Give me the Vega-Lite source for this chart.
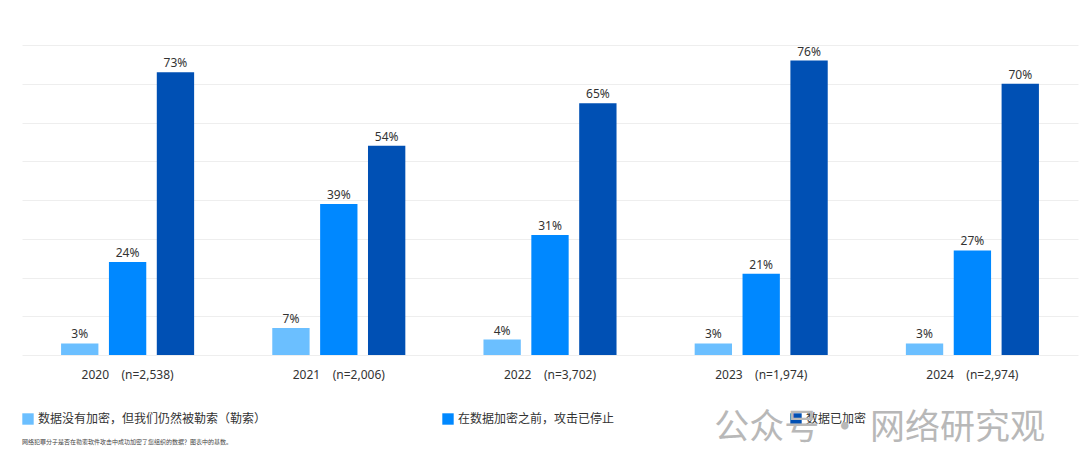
{
  "$schema": "https://vega.github.io/schema/vega-lite/v6.json",
  "width": 1056,
  "height": 310,
  "padding": {"left": 22, "top": 45, "right": 2, "bottom": 5},
  "background": "white",
  "config": {
    "view": {"stroke": null},
    "font": "Noto Sans"
  },
  "title": {
    "text": "公众号 · 网络研究观",
    "orient": "bottom",
    "anchor": "end",
    "frame": "group",
    "offset": -34,
    "dx": -33,
    "fontSize": 35,
    "fontWeight": "normal",
    "font": "Noto Sans CJK SC",
    "color": "#b8b8b8"
  },
  "data": {
    "values": [
      {"year": "2020\u00a0\u00a0\u00a0\u00a0(n=2,538)", "cat": "数据没有加密，但我们仍然被勒索（勒索）", "value": 0.03},
      {"year": "2020\u00a0\u00a0\u00a0\u00a0(n=2,538)", "cat": "在数据加密之前，攻击已停止", "value": 0.24},
      {"year": "2020\u00a0\u00a0\u00a0\u00a0(n=2,538)", "cat": "数据已加密", "value": 0.73},
      {"year": "2021\u00a0\u00a0\u00a0\u00a0(n=2,006)", "cat": "数据没有加密，但我们仍然被勒索（勒索）", "value": 0.07},
      {"year": "2021\u00a0\u00a0\u00a0\u00a0(n=2,006)", "cat": "在数据加密之前，攻击已停止", "value": 0.39},
      {"year": "2021\u00a0\u00a0\u00a0\u00a0(n=2,006)", "cat": "数据已加密", "value": 0.54},
      {"year": "2022\u00a0\u00a0\u00a0\u00a0(n=3,702)", "cat": "数据没有加密，但我们仍然被勒索（勒索）", "value": 0.04},
      {"year": "2022\u00a0\u00a0\u00a0\u00a0(n=3,702)", "cat": "在数据加密之前，攻击已停止", "value": 0.31},
      {"year": "2022\u00a0\u00a0\u00a0\u00a0(n=3,702)", "cat": "数据已加密", "value": 0.65},
      {"year": "2023\u00a0\u00a0\u00a0\u00a0(n=1,974)", "cat": "数据没有加密，但我们仍然被勒索（勒索）", "value": 0.03},
      {"year": "2023\u00a0\u00a0\u00a0\u00a0(n=1,974)", "cat": "在数据加密之前，攻击已停止", "value": 0.21},
      {"year": "2023\u00a0\u00a0\u00a0\u00a0(n=1,974)", "cat": "数据已加密", "value": 0.76},
      {"year": "2024\u00a0\u00a0\u00a0\u00a0(n=2,974)", "cat": "数据没有加密，但我们仍然被勒索（勒索）", "value": 0.03},
      {"year": "2024\u00a0\u00a0\u00a0\u00a0(n=2,974)", "cat": "在数据加密之前，攻击已停止", "value": 0.27},
      {"year": "2024\u00a0\u00a0\u00a0\u00a0(n=2,974)", "cat": "数据已加密", "value": 0.70}
    ]
  },
  "encoding": {
    "x": {
      "field": "year",
      "type": "nominal",
      "sort": null,
      "scale": {"paddingInner": 0.37, "paddingOuter": 0.185},
      "axis": {
        "title": null,
        "labelAngle": 0,
        "ticks": false,
        "domain": false,
        "labelPadding": 14,
        "labelFontSize": 12,
        "labelColor": "#333333",
        "labelFont": "Noto Sans"
      }
    },
    "xOffset": {
      "field": "cat",
      "type": "nominal",
      "sort": ["数据没有加密，但我们仍然被勒索（勒索）", "在数据加密之前，攻击已停止", "数据已加密"],
      "scale": {"paddingInner": 0.22, "paddingOuter": 0}
    },
    "y": {
      "field": "value",
      "type": "quantitative",
      "scale": {"domain": [0, 0.8]},
      "axis": {
        "title": null,
        "labels": false,
        "ticks": false,
        "domain": false,
        "values": [0, 0.1, 0.2, 0.3, 0.4, 0.5, 0.6, 0.7, 0.8],
        "gridColor": "#eeeeee",
        "gridWidth": 1
      }
    }
  },
  "layer": [
    {
      "mark": {"type": "bar"},
      "encoding": {
        "color": {
          "field": "cat",
          "type": "nominal",
          "sort": ["数据没有加密，但我们仍然被勒索（勒索）", "在数据加密之前，攻击已停止", "数据已加密"],
          "scale": {
            "domain": ["数据没有加密，但我们仍然被勒索（勒索）", "在数据加密之前，攻击已停止", "数据已加密"],
            "range": ["#6BBFFF", "#0088FF", "#0050B4"]
          },
          "legend": {
            "orient": "bottom",
            "direction": "horizontal",
            "columns": 3,
            "columnPadding": 175,
            "symbolType": "square",
            "symbolSize": 130,
            "symbolStrokeWidth": 0,
            "symbolOpacity": 1,
            "labelFontSize": 12,
            "labelFont": "Noto Sans CJK SC",
            "labelColor": "#333333",
            "labelLimit": 400,
            "title": "网络犯罪分子是否在勒索软件攻击中成功加密了您组织的数据？图表中的基数。",
            "titleOrient": "bottom",
            "titleAnchor": "start",
            "titleFontSize": 6,
            "titleFontWeight": "normal",
            "titleFont": "Noto Sans CJK SC",
            "titleColor": "#444444",
            "titlePadding": 14,
            "titleLimit": 600,
            "offset": 33
          }
        }
      }
    },
    {
      "mark": {"type": "text", "dy": -9, "fontSize": 12, "color": "#333333", "font": "Noto Sans"},
      "encoding": {
        "text": {"field": "value", "type": "quantitative", "format": ".0%"}
      }
    }
  ]
}
